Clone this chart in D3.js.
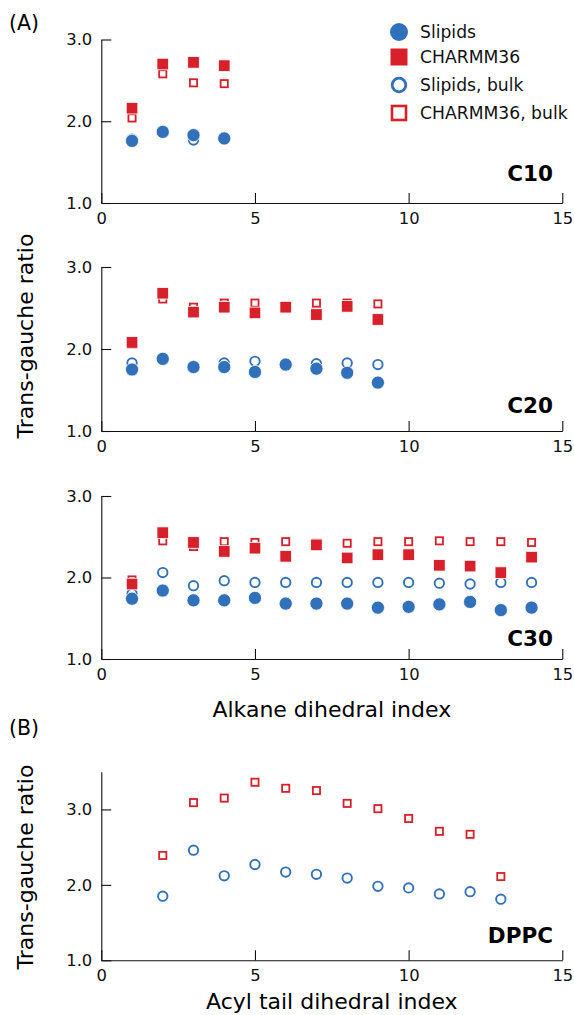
<!DOCTYPE html>
<html>
<head>
<meta charset="utf-8">
<script src="https://cdn.jsdelivr.net/npm/d3@7"></script>
<style>
  body { margin: 0; background: #fff; }
  svg { display: block; font-family: "DejaVu Sans", sans-serif; }
</style>
</head>
<body>
<div id="chart"></div>
<script>
// --- data ---
const xTicks = [0, 5, 10, 15];
const yTicksA = [1.0, 2.0, 3.0];
const yTicksB = [1.0, 2.0, 3.0];

const c10Index = [1, 2, 3, 4];
const c10Slipids = [1.76, 1.87, 1.83, 1.79];
const c10Charmm = [2.16, 2.70, 2.72, 2.68];
const c10SlipidsBulk = [1.78, 1.88, 1.77, 1.78];
const c10CharmmBulk = [2.04, 2.58, 2.47, 2.46];

const c20Index = [1, 2, 3, 4, 5, 6, 7, 8, 9];
const c20Slipids = [1.75, 1.88, 1.78, 1.78, 1.72, 1.81, 1.76, 1.71, 1.59];
const c20Charmm = [2.08, 2.68, 2.45, 2.51, 2.44, 2.51, 2.42, 2.52, 2.36];
const c20SlipidsBulk = [1.83, 1.88, 1.79, 1.83, 1.85, 1.82, 1.82, 1.83, 1.81];
const c20CharmmBulk = [2.06, 2.61, 2.51, 2.56, 2.56, 2.53, 2.56, 2.56, 2.55];

const c30Index = [1, 2, 3, 4, 5, 6, 7, 8, 9, 10, 11, 12, 13, 14];
const c30Slipids = [1.74, 1.84, 1.72, 1.72, 1.75, 1.68, 1.68, 1.68, 1.63, 1.64, 1.67, 1.70, 1.60, 1.63];
const c30Charmm = [1.92, 2.55, 2.43, 2.32, 2.36, 2.26, 2.40, 2.24, 2.28, 2.28, 2.15, 2.14, 2.06, 2.25];
const c30SlipidsBulk = [1.80, 2.06, 1.90, 1.96, 1.94, 1.94, 1.94, 1.94, 1.94, 1.94, 1.93, 1.92, 1.94, 1.94];
const c30CharmmBulk = [1.97, 2.45, 2.38, 2.44, 2.43, 2.44, 2.42, 2.42, 2.44, 2.44, 2.45, 2.44, 2.44, 2.43];

const dppcIndex = [2, 3, 4, 5, 6, 7, 8, 9, 10, 11, 12, 13];
const dppcSlipidsBulk = [1.85, 2.46, 2.12, 2.27, 2.17, 2.14, 2.09, 1.98, 1.96, 1.88, 1.91, 1.81];
const dppcCharmmBulk = [2.39, 3.09, 3.15, 3.36, 3.28, 3.25, 3.08, 3.01, 2.88, 2.71, 2.67, 2.11];

const legendLabels = ["Slipids", "CHARMM36", "Slipids, bulk", "CHARMM36, bulk"];

const blue = "#3171bb";
const red = "#d7202a";

const width = 574, height = 1015;
const svg = d3.select("#chart").append("svg")
  .attr("width", width)
  .attr("height", height);

const x = d3.scaleLinear().domain([0, 15]).range([101.3, 562.3]);

const zip = (idx, vals) => vals ? idx.map((i, k) => ({ i, v: vals[k] })) : [];

const panels = [
  { top: 39.5, bottom: 203, ymax: 3, ticks: yTicksA, label: "C10", labelY: 181,
    s: zip(c10Index, c10Slipids), c: zip(c10Index, c10Charmm),
    sb: zip(c10Index, c10SlipidsBulk), cb: zip(c10Index, c10CharmmBulk) },
  { top: 267, bottom: 431, ymax: 3, ticks: yTicksA, label: "C20", labelY: 413,
    s: zip(c20Index, c20Slipids), c: zip(c20Index, c20Charmm),
    sb: zip(c20Index, c20SlipidsBulk), cb: zip(c20Index, c20CharmmBulk) },
  { top: 496, bottom: 659, ymax: 3, ticks: yTicksA, label: "C30", labelY: 646,
    s: zip(c30Index, c30Slipids), c: zip(c30Index, c30Charmm),
    sb: zip(c30Index, c30SlipidsBulk), cb: zip(c30Index, c30CharmmBulk) },
  { top: 771.7, bottom: 960.3, ymax: 3.5, ticks: yTicksB, label: "DPPC", labelY: 943,
    s: [], c: [],
    sb: zip(dppcIndex, dppcSlipidsBulk), cb: zip(dppcIndex, dppcCharmmBulk) }
];

panels.forEach(p => {
  const y = d3.scaleLinear().domain([1, p.ymax]).range([p.bottom, p.top]);
  const g = svg.append("g");

  // axes: inward ticks, left + bottom spines only
  const ax = g.append("g")
    .attr("transform", `translate(0,${p.bottom})`)
    .call(d3.axisBottom(x).tickValues(xTicks).tickFormat(d3.format("d"))
      .tickSizeInner(-10).tickSizeOuter(0).tickPadding(9));
  const ay = g.append("g")
    .attr("transform", `translate(${x(0)},0)`)
    .call(d3.axisLeft(y).tickValues(p.ticks).tickFormat(d3.format(".1f"))
      .tickSizeInner(-10).tickSizeOuter(0).tickPadding(9));
  [ax, ay].forEach(a => {
    a.selectAll("text").attr("font-size", 16.4).attr("fill", "#111")
      .attr("font-family", "DejaVu Sans, sans-serif");
    a.selectAll("line, path").attr("stroke", "#111").attr("stroke-width", 1.1);
  });

  // bulk (open) markers first, filled on top
  g.selectAll(".sb").data(p.sb).join("circle")
    .attr("cx", d => x(d.i)).attr("cy", d => y(d.v)).attr("r", 4.7)
    .attr("fill", "none").attr("stroke", blue).attr("stroke-width", 1.9);
  g.selectAll(".cb").data(p.cb).join("rect")
    .attr("x", d => x(d.i) - 3.6).attr("y", d => y(d.v) - 3.6)
    .attr("width", 7.2).attr("height", 7.2)
    .attr("fill", "none").attr("stroke", red).attr("stroke-width", 1.8);
  g.selectAll(".s").data(p.s).join("circle")
    .attr("cx", d => x(d.i)).attr("cy", d => y(d.v)).attr("r", 6.6)
    .attr("fill", blue).attr("stroke", "#fff").attr("stroke-width", 0.8);
  g.selectAll(".c").data(p.c).join("rect")
    .attr("x", d => x(d.i) - 5.8).attr("y", d => y(d.v) - 5.8)
    .attr("width", 11.6).attr("height", 11.6)
    .attr("fill", red).attr("stroke", "#fff").attr("stroke-width", 0.8);

  g.append("text")
    .attr("x", 553).attr("y", p.labelY)
    .attr("text-anchor", "end")
    .attr("font-size", 21.5).attr("font-weight", "bold")
    .text(p.label);
});

// panel letters and axis titles
svg.append("text").attr("x", 9).attr("y", 30).attr("font-size", 20.5).text("(A)");
svg.append("text").attr("x", 9).attr("y", 735).attr("font-size", 20.5).text("(B)");

svg.append("text").attr("x", 331.8).attr("y", 717)
  .attr("text-anchor", "middle").attr("font-size", 22).text("Alkane dihedral index");
svg.append("text").attr("x", 331.8).attr("y", 1009)
  .attr("text-anchor", "middle").attr("font-size", 22).text("Acyl tail dihedral index");

[336, 867].forEach(cy => {
  svg.append("text")
    .attr("transform", `translate(33,${cy}) rotate(-90)`)
    .attr("text-anchor", "middle").attr("font-size", 22)
    .text("Trans-gauche ratio");
});

// legend
const legendY = [32, 57, 85, 113];
const leg = svg.append("g");
leg.append("circle").attr("cx", 399).attr("cy", legendY[0]).attr("r", 9).attr("fill", blue);
leg.append("rect").attr("x", 390.5).attr("y", legendY[1] - 8.5)
  .attr("width", 17).attr("height", 17).attr("fill", red);
leg.append("circle").attr("cx", 399).attr("cy", legendY[2]).attr("r", 6.8)
  .attr("fill", "none").attr("stroke", blue).attr("stroke-width", 2.8);
leg.append("rect").attr("x", 392).attr("y", legendY[3] - 7)
  .attr("width", 14).attr("height", 14)
  .attr("fill", "none").attr("stroke", red).attr("stroke-width", 2.6);
leg.selectAll("text").data(legendLabels).join("text")
  .attr("x", 420).attr("y", (d, k) => legendY[k])
  .attr("dy", "0.35em").attr("font-size", 17.2).attr("fill", "#111")
  .text(d => d);
</script>
</body>
</html>
